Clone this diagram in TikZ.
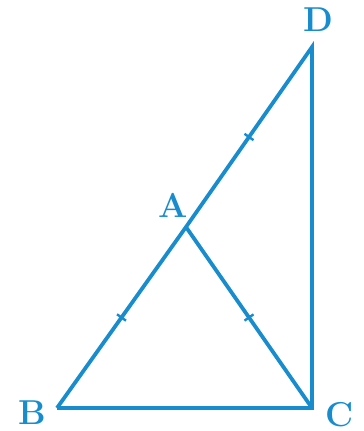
\documentclass[tikz,border=0pt]{standalone}
\usepackage{tikz}
\usetikzlibrary{positioning}
\definecolor{GeoBlue}{RGB}{25,140,205}

\begin{document}
\begin{tikzpicture}[x=0.5pt,y=-0.5pt,
  side/.style={draw=GeoBlue,line width=1.9pt,line join=miter},
  tickmark/.style={sloped,draw=GeoBlue,line width=1.2pt,minimum width=0pt,minimum height=5.5pt,inner sep=0pt},
  vlabel/.style={text=GeoBlue,font=\LARGE\bfseries,inner sep=0pt}]
  \useasboundingbox (0,0) rectangle (363,431);
  % points
  \coordinate (B) at (57,408);
  \coordinate (C) at (312,408);
  \coordinate (A) at (186,227);
  \coordinate (D) at (312,47);
  % sides
  \path[side] (B) -- (C) -- (D) -- (A)
    node[midway,tickmark]{} -- (B)
    node[midway,tickmark]{};
  \path[side] (A) -- (C) node[midway,tickmark]{};
  % labels
  \node[vlabel] (lD) at (318,20) {D};
  \node[vlabel] (lA) at (173,205) {A};
  \node[vlabel] (lB) at (32,413) {B};
  \node[vlabel] (lC) at (340,415) {C};
\end{tikzpicture}
\end{document}
